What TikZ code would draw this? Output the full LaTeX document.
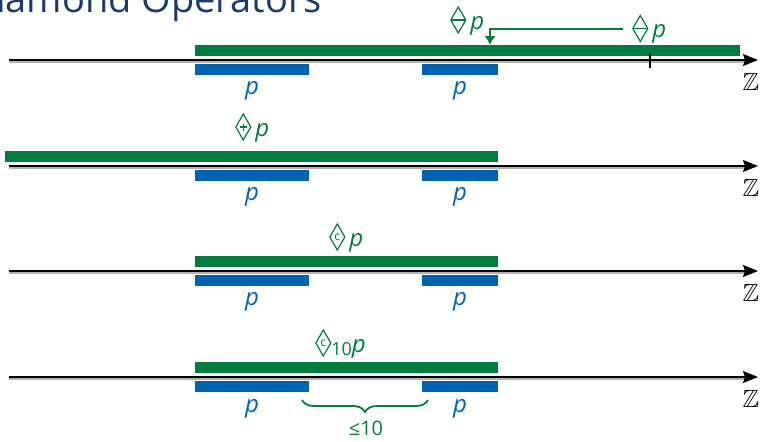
\documentclass[tikz,border=0pt]{standalone}
\usepackage{fontspec}
\usepackage{amssymb}
\setmainfont{Open Sans}
\usetikzlibrary{arrows.meta,decorations.pathreplacing}
\definecolor{dgreen}{RGB}{0,125,62}
\definecolor{dblue}{RGB}{0,99,177}
\definecolor{navy}{RGB}{28,58,108}
\newcommand\dmd[1]{\tikz[baseline={(0,-9pt)},x=1pt,y=1pt,line width=1.2pt,line join=miter]{\draw (0,13)--(7.5,0)--(0,-13)--(-7.5,0)--cycle; #1}}
\newcommand\dmdminus{\dmd{\draw (-7.5,0)--(7.5,0);}}
\newcommand\dmdplus{\dmd{\draw (-3.5,0)--(3.5,0) (0,-3.5)--(0,3.5);}}
\newcommand\dmdc{\dmd{\node[anchor=center,inner sep=0pt,font=\fontsize{12}{12}\selectfont] at (0,0) {c};}}
\tikzset{
  axisline/.style={line width=1.4pt,-{Stealth[length=15pt,width=12pt,inset=2pt]}},
  axisshadow/.style={line width=1.1pt,gray!60},
  gbar/.style={rectangle,fill=dgreen,inner sep=0pt,anchor=north west,minimum height=11pt},
  bbar/.style={rectangle,fill=dblue,inner sep=0pt,anchor=north west,minimum height=11pt},
  plab/.style={text=dblue,inner sep=0pt,anchor=base,font=\fontsize{24}{24}\selectfont\itshape},
  glab/.style={text=dgreen,inner sep=0pt,anchor=base west,font=\fontsize{24}{24}\selectfont},
  zlab/.style={inner sep=0pt,font=\fontsize{24.88}{25}\selectfont},
}
\begin{document}
\begin{tikzpicture}[x=1pt,y=-1pt]
\useasboundingbox (0,0) rectangle (761,442);
\begin{scope}
\clip (0,0) rectangle (761,442);
\node[text=navy,inner sep=0pt,anchor=base east,font=\fontsize{38}{38}\selectfont] (title) at (322,12.5) {Diamond Operators};
\end{scope}
% ---------- axes ----------
\foreach \A/\n in {60/1,166/2,271/3,377/4}{
  \coordinate (s\n) at (9,\A);
  \coordinate (e\n) at (758,\A);
  \draw[axisshadow] (9,\A+2) -- (745,\A+2);
  \draw[axisline] (s\n) -- (e\n);
  \node[zlab] (z\n) at (751,\A+22) {$\mathbb{Z}$};
}
% ---------- row 1 ----------
\node[gbar,minimum width=545pt] (g1) at (195,45) {};
\node[bbar,minimum width=114pt] (b1a) at (195,64) {};
\node[bbar,minimum width=76pt] (b1b) at (422,64) {};
\node[plab] (p1a) at (252,94) {p};
\node[plab] (p1b) at (460,94) {p};
\draw[line width=1.6pt] (650,53) coordinate (tk1) -- (650,68) coordinate (tk2);
\node[glab] (l1a) at (450,29) {\dmdminus\,\textit{p}};
\node[glab] (l1b) at (632,37.5) {\dmdminus\,\textit{p}};
\coordinate (t1) at (490,45);
\draw[dgreen,line width=2pt,shorten <=9pt,-{Latex[length=9pt,width=11pt]}] (l1b.west) -| (t1);
% ---------- row 2 ----------
\node[gbar,minimum width=493pt] (g2) at (5,151) {};
\node[bbar,minimum width=114pt] (b2a) at (195,170) {};
\node[bbar,minimum width=76pt] (b2b) at (422,170) {};
\node[plab] (p2a) at (252,200) {p};
\node[plab] (p2b) at (460,200) {p};
\node[glab] (l2) at (235,136) {\dmdplus\,\textit{p}};
% ---------- row 3 ----------
\node[gbar,minimum width=303pt] (g3) at (195,256) {};
\node[bbar,minimum width=114pt] (b3a) at (195,275) {};
\node[bbar,minimum width=76pt] (b3b) at (422,275) {};
\node[plab] (p3a) at (252,305) {p};
\node[plab] (p3b) at (460,305) {p};
\node[glab] (l3) at (329,246) {\dmdc\,\textit{p}};
% ---------- row 4 ----------
\node[gbar,minimum width=303pt] (g4) at (195,362) {};
\node[bbar,minimum width=114pt] (b4a) at (195,381) {};
\node[bbar,minimum width=76pt] (b4b) at (422,381) {};
\node[plab] (p4a) at (252,412) {p};
\node[plab] (p4b) at (460,412) {p};
\node[glab] (l4) at (315,352) {\dmdc\raisebox{-3pt}{\fontsize{18}{18}\selectfont 10}\textit{p}};
\coordinate (br1) at (302,400);
\coordinate (br2) at (428,400);
\draw[dgreen,line width=1.8pt,decorate,decoration={brace,mirror,amplitude=12pt}] (br1) -- (br2);
\node[text=dgreen,inner sep=0pt,font=\fontsize{20}{20}\selectfont] (le) at (366,428) {≤10};
\end{tikzpicture}
\end{document}
